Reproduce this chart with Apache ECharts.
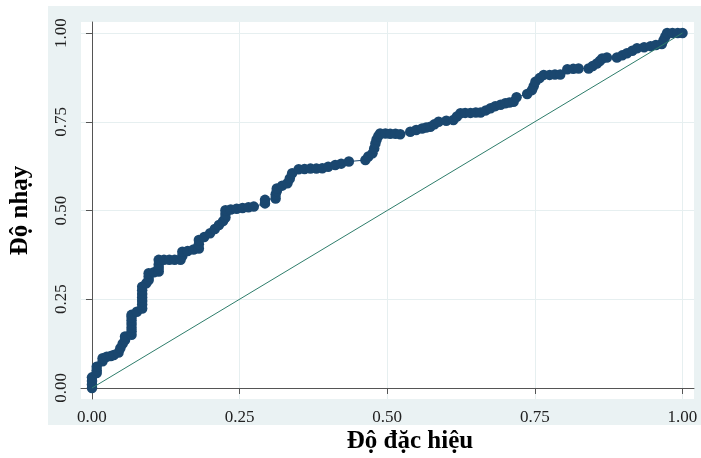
<!DOCTYPE html>
<html>
<head>
<meta charset="utf-8">
<script src="https://cdn.jsdelivr.net/npm/echarts@6/dist/echarts.min.js"></script>
<style>
  html, body { margin: 0; padding: 0; background: #ffffff; }
  #chart { width: 701px; height: 458px; }
</style>
</head>
<body>
<div id="chart"></div>
<script>
  // 1 - đặc hiệu (x) and độ nhạy (y)
  const fpr = [
    0, 0, 0, 0, 0.008, 0.008, 0.008, 0.018, 0.018, 0.025, 0.032, 0.037,
    0.045, 0.048, 0.052, 0.056, 0.056, 0.067, 0.067, 0.067, 0.067, 0.067, 0.067, 0.067,
    0.076, 0.085, 0.085, 0.085, 0.085, 0.085, 0.085, 0.085, 0.092, 0.096, 0.096, 0.096,
    0.105, 0.113, 0.113, 0.113, 0.113, 0.122, 0.131, 0.14, 0.15, 0.153, 0.153,
    0.162, 0.172, 0.181, 0.181, 0.181, 0.19, 0.2, 0.208, 0.215, 0.222, 0.226, 0.226, 0.226,
    0.235, 0.245, 0.255, 0.265, 0.274, 0.293, 0.293, 0.311, 0.311, 0.313, 0.313,
    0.322, 0.331, 0.335, 0.339, 0.35, 0.36, 0.37, 0.38, 0.39, 0.4, 0.412, 0.422, 0.435,
    0.463, 0.468, 0.475, 0.478, 0.48, 0.482, 0.485, 0.488, 0.497, 0.505, 0.514, 0.522,
    0.539, 0.549, 0.559, 0.566, 0.573, 0.58, 0.587, 0.6, 0.612, 0.618, 0.624,
    0.632, 0.641, 0.65, 0.658, 0.667, 0.675, 0.683, 0.692, 0.7, 0.707, 0.714, 0.719,
    0.737, 0.745, 0.748, 0.751, 0.758, 0.765, 0.775, 0.784, 0.793, 0.805, 0.815, 0.824,
    0.841, 0.848, 0.855, 0.86, 0.864, 0.872, 0.889, 0.898, 0.906, 0.915, 0.923,
    0.935, 0.946, 0.955, 0.965, 0.968, 0.971, 0.974, 0.983, 0.992, 1
  ];
  const tpr = [
    0, 0.01, 0.02, 0.03, 0.042, 0.05, 0.06, 0.075, 0.084, 0.088, 0.09, 0.093,
    0.1, 0.112, 0.125, 0.135, 0.145, 0.15, 0.16, 0.17, 0.18, 0.19, 0.2, 0.206,
    0.215, 0.224, 0.235, 0.245, 0.255, 0.265, 0.275, 0.285, 0.295, 0.304, 0.314, 0.323,
    0.326, 0.328, 0.338, 0.348, 0.361, 0.361, 0.361, 0.361, 0.361, 0.372, 0.384,
    0.386, 0.39, 0.393, 0.405, 0.417, 0.425, 0.436, 0.448, 0.459, 0.47, 0.48, 0.49, 0.501,
    0.503, 0.505, 0.507, 0.509, 0.511, 0.52, 0.53, 0.534, 0.545, 0.555, 0.562,
    0.57, 0.577, 0.59, 0.605, 0.616, 0.617, 0.618, 0.618, 0.619, 0.623, 0.628, 0.632, 0.638,
    0.642, 0.652, 0.661, 0.675, 0.689, 0.7, 0.71, 0.717, 0.717, 0.716, 0.716, 0.715,
    0.722, 0.727, 0.731, 0.734, 0.736, 0.743, 0.75, 0.753, 0.755, 0.765, 0.774,
    0.775, 0.775, 0.776, 0.776, 0.782, 0.788, 0.794, 0.798, 0.802, 0.804, 0.806, 0.819,
    0.828, 0.839, 0.85, 0.863, 0.873, 0.882, 0.882, 0.883, 0.883, 0.898, 0.899, 0.9,
    0.9, 0.907, 0.914, 0.921, 0.928, 0.931, 0.931, 0.937, 0.943, 0.95, 0.957,
    0.96, 0.963, 0.966, 0.969, 0.98, 0.99, 1, 1, 1, 1
  ];
  const refX = [0, 1];
  const refY = [0, 1];
  const ticks = [0, 0.25, 0.5, 0.75, 1];

  const chart = echarts.init(document.getElementById('chart'), null, { renderer: 'canvas' });

  const serif = 'Liberation Serif';
  const axisCommon = {
    type: 'value',
    axisLine: { show: true, lineStyle: { color: '#555555', width: 1 } },
    axisTick: { show: true, length: 6, customValues: ticks, lineStyle: { color: '#555555' } },
    splitLine: { show: true, lineStyle: { color: '#e6eff0', width: 1 } },
    axisLabel: {
      customValues: ticks,
      color: '#222222',
      fontFamily: serif,
      fontSize: 17,
      formatter: function (v) { return v.toFixed(2); }
    }
  };

  const option = {
    animation: false,
    backgroundColor: '#ffffff',
    graphic: [
      {
        type: 'rect', z: -100, silent: true,
        shape: { x: 48, y: 6, width: 653, height: 419 },
        style: { fill: '#eaf2f3' }
      },
      {
        type: 'text', z: 100, x: 410, y: 442,
        style: {
          text: 'Độ đặc hiệu', fill: '#000000',
          font: 'bold 25px "Liberation Serif"',
          align: 'center', verticalAlign: 'middle'
        }
      }
    ],
    grid: {
      left: 81, right: 7, top: 22, bottom: 59,
      show: true, backgroundColor: '#ffffff', borderWidth: 0
    },
    xAxis: Object.assign({}, axisCommon, {
      min: -0.0186, max: 1.0195,
      axisLabel: Object.assign({}, axisCommon.axisLabel, { margin: 10 })
    }),
    yAxis: Object.assign({}, axisCommon, {
      min: -0.031, max: 1.031,
      name: 'Độ nhạy',
      nameLocation: 'middle',
      nameGap: 48,
      nameTextStyle: { fontFamily: serif, fontWeight: 'bold', fontSize: 25, color: '#000000' },
      axisLabel: Object.assign({}, axisCommon.axisLabel, { rotate: 90, margin: 11 })
    }),
    series: [
      {
        type: 'line',
        data: fpr.map(function (x, i) { return [x, tpr[i]]; }),
        symbol: 'circle',
        symbolSize: 10.5,
        showSymbol: true,
        showAllSymbol: true,
        lineStyle: { color: '#1a476f', width: 1 },
        itemStyle: { color: '#1a476f', borderWidth: 0 },
        z: 3
      },
      {
        type: 'line',
        data: refX.map(function (x, i) { return [x, refY[i]]; }),
        showSymbol: false,
        lineStyle: { color: '#2e7d6b', width: 1 },
        z: 4
      }
    ]
  };

  chart.setOption(option);
  window.addEventListener('resize', chart.resize);
</script>
</body>
</html>
